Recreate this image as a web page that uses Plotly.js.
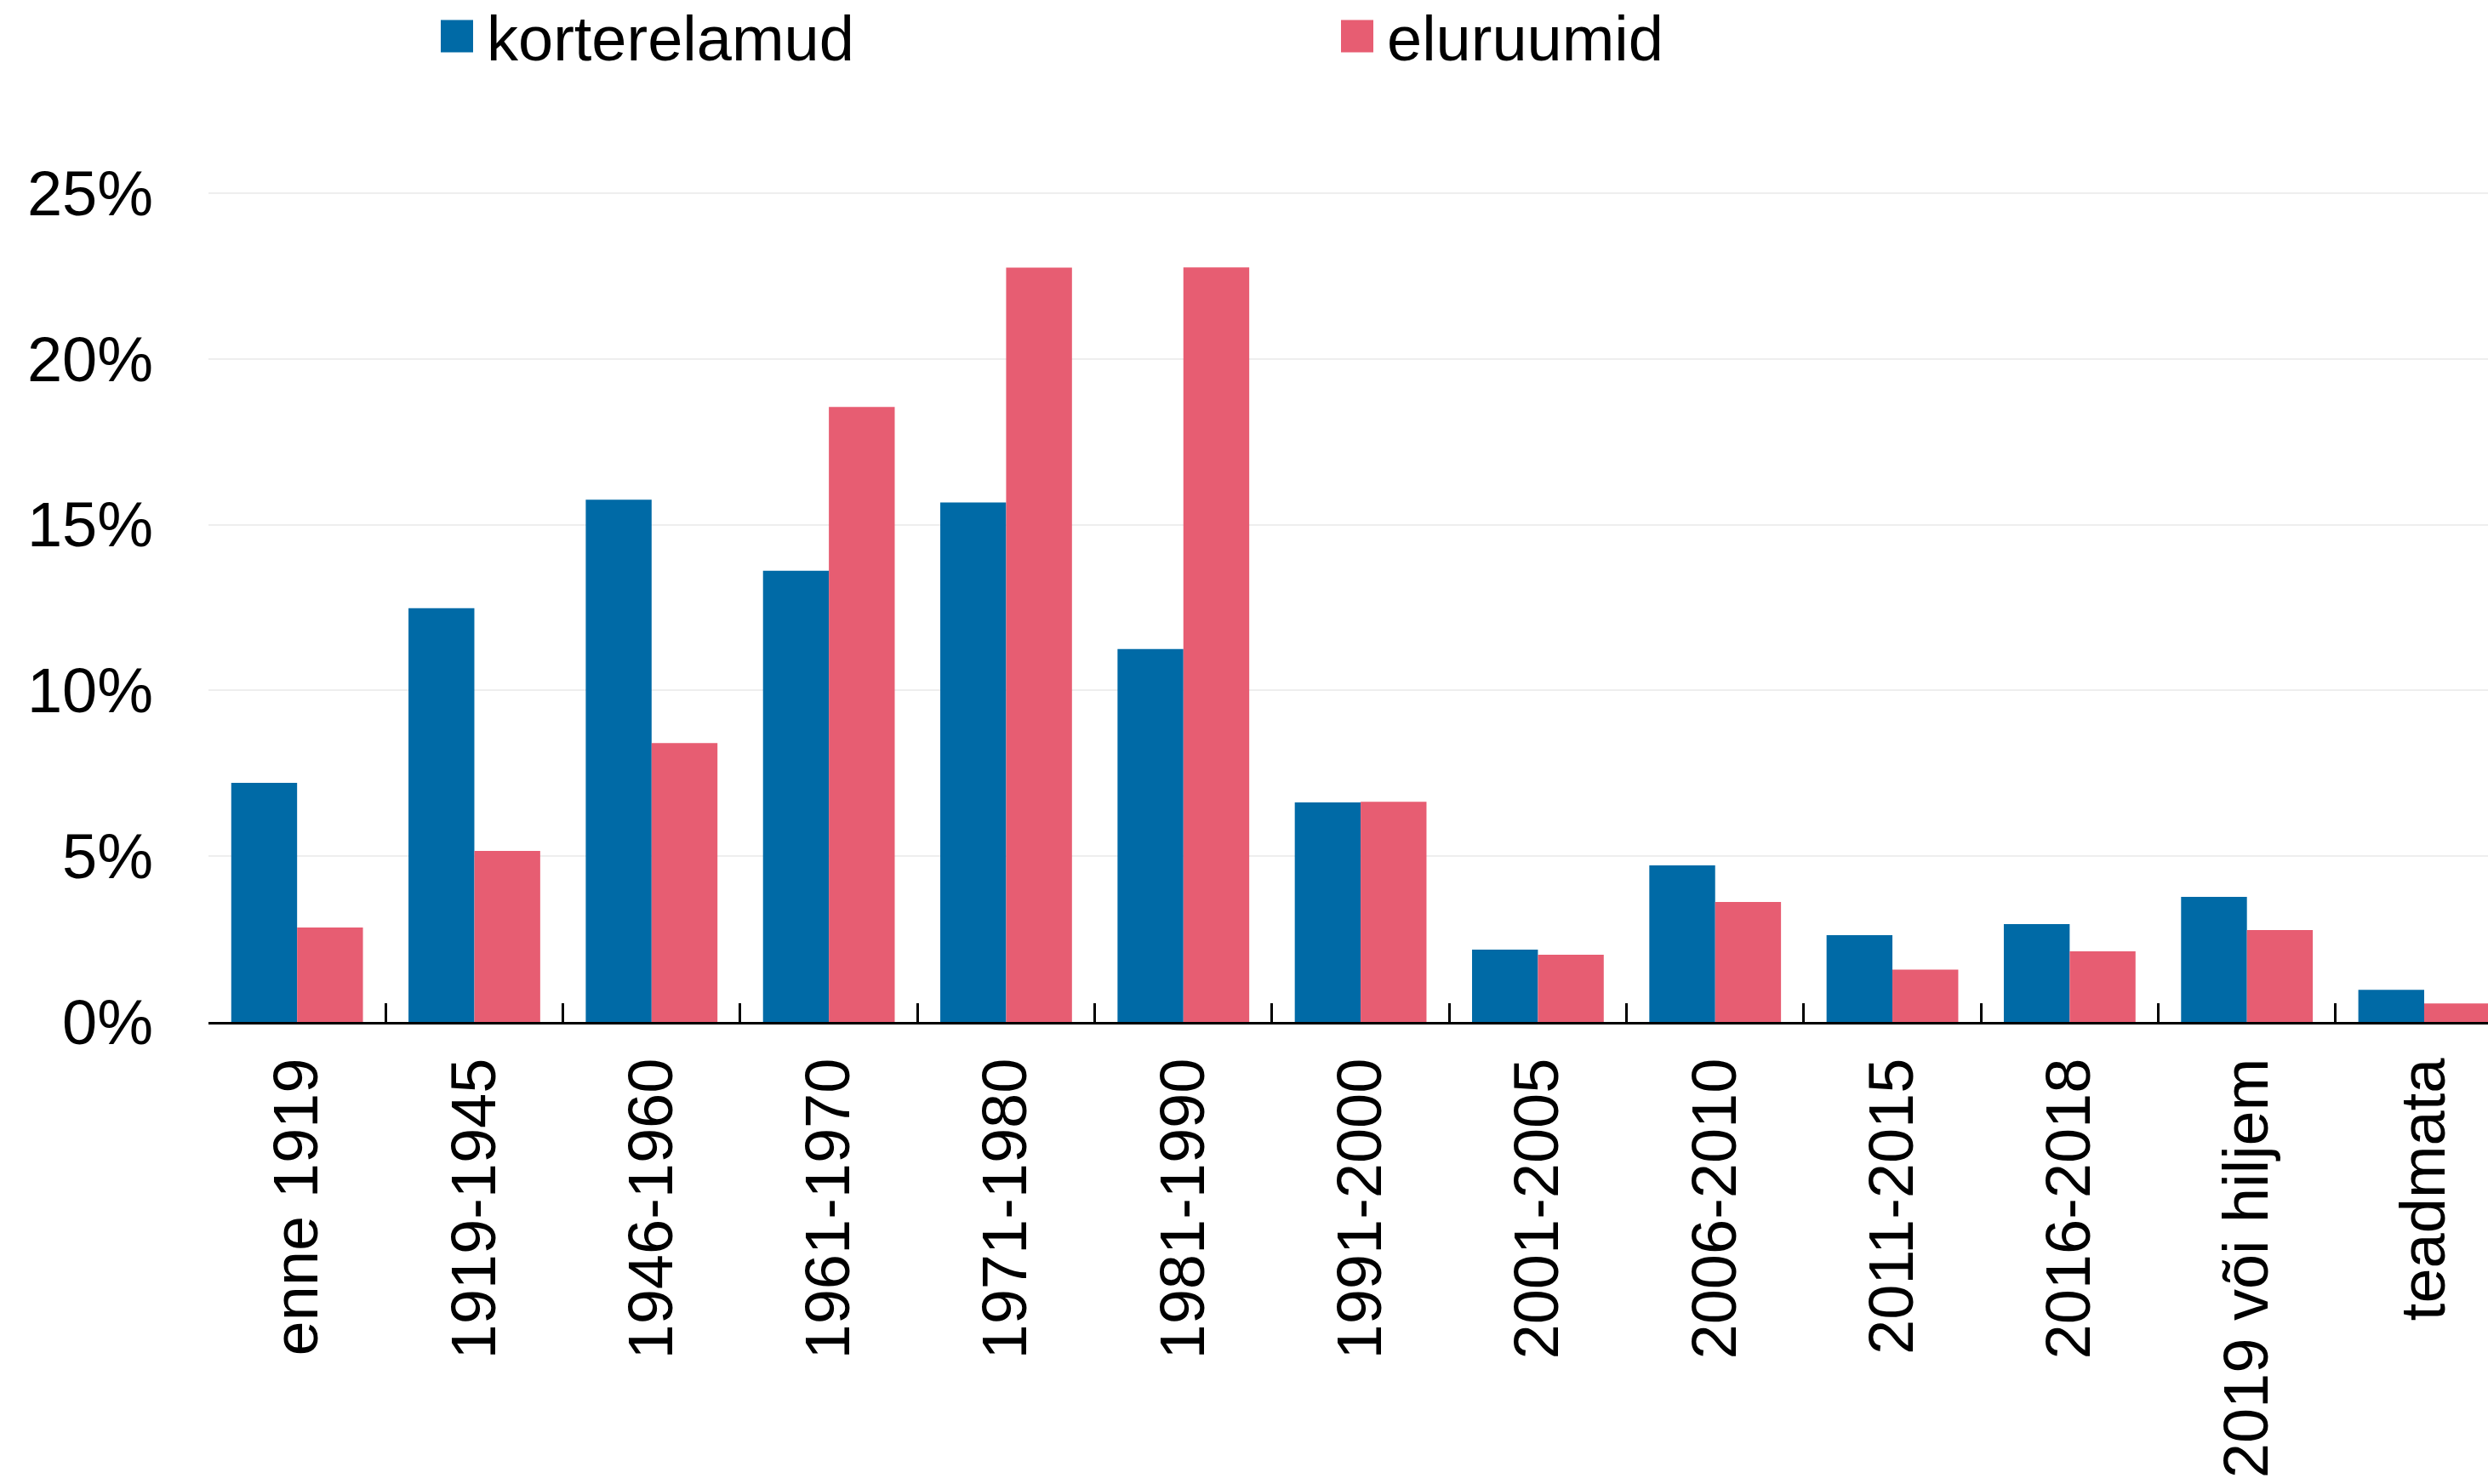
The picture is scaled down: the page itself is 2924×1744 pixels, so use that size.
<!DOCTYPE html>
<html>
<head>
<meta charset="utf-8">
<script src="https://cdn.plot.ly/plotly-3.0.1.min.js"></script>
<style>html,body{margin:0;padding:0;background:#fff;}#chart{width:2924px;height:1744px;}</style>
</head>
<body>
<div id="chart"></div>
<script>
var categories = ["enne 1919", "1919-1945", "1946-1960", "1961-1970", "1971-1980", "1981-1990", "1991-2000", "2001-2005", "2006-2010", "2011-2015", "2016-2018", "2019 või hiljem", "teadmata"];
var korterelamud = [7.21, 12.48, 15.75, 13.61, 15.67, 11.25, 6.62, 2.18, 4.72, 2.62, 2.95, 3.77, 0.97];
var eluruumid = [2.85, 5.16, 8.41, 18.55, 22.75, 22.76, 6.64, 2.03, 3.62, 1.58, 2.13, 2.77, 0.56];
var seriesNames = ["korterelamud", "eluruumid"];
var yTicks = [0, 5, 10, 15, 20, 25];
var yTickLabels = ["0%", "5%", "10%", "15%", "20%", "25%"];

var FONT = "Liberation Sans, Arial, Helvetica, sans-serif";

var traces = [
  {type: "bar", name: seriesNames[0], x: categories, y: korterelamud,
   marker: {color: "#006AA6", line: {width: 0}}},
  {type: "bar", name: seriesNames[1], x: categories, y: eluruumid,
   marker: {color: "#E75D72", line: {width: 0}}}
];

var layout = {
  width: 2924, height: 1744,
  margin: {l: 245, r: 0, t: 225, b: 543, pad: 0, autoexpand: false},
  paper_bgcolor: "#ffffff", plot_bgcolor: "#ffffff",
  font: {family: FONT, size: 74, color: "#000000"},
  barmode: "group", bargap: 0.257, bargroupgap: 0,
  showlegend: true,
  legend: {
    orientation: "h", xref: "container", yref: "paper",
    x: 502 / 2924, y: 1 + (225 + 12) / 976, xanchor: "left", yanchor: "top",
    font: {family: FONT, size: 74, color: "#000000"},
    itemwidth: 60, entrywidth: 983, entrywidthmode: "pixels",
    bgcolor: "rgba(0,0,0,0)", borderwidth: 0, traceorder: "normal"
  },
  xaxis: {
    type: "category", range: [-0.5, 12.36], fixedrange: true,
    showline: true, linecolor: "#000000", linewidth: 3,
    ticks: "inside", tickson: "boundaries", ticklen: 22, tickwidth: 3, tickcolor: "#000000",
    tickangle: -90, ticklabelstandoff: 10,
    tickfont: {family: FONT, size: 74, color: "#000000"},
    showgrid: false, zeroline: false
  },
  yaxis: {
    range: [0, 25.05], tickmode: "array", tickvals: yTicks, ticktext: yTickLabels, fixedrange: true,
    showline: false, ticks: "", ticklabelstandoff: 64,
    tickfont: {family: FONT, size: 74, color: "#000000"},
    showgrid: true, gridcolor: "#eeeeee", gridwidth: 2, zeroline: false
  }
};

function bigLegendSymbols() {
  var paths = document.querySelectorAll("#chart .legend .legendpoints path");
  paths.forEach(function (p) { p.setAttribute("d", "M19,19H-19V-19H19Z"); });
}

Plotly.newPlot("chart", traces, layout, {staticPlot: true, displayModeBar: false}).then(function (gd) {
  bigLegendSymbols();
  gd.on("plotly_afterplot", bigLegendSymbols);
  setTimeout(bigLegendSymbols, 0);
  setTimeout(bigLegendSymbols, 100);
  setTimeout(bigLegendSymbols, 400);
});
</script>
</body>
</html>
